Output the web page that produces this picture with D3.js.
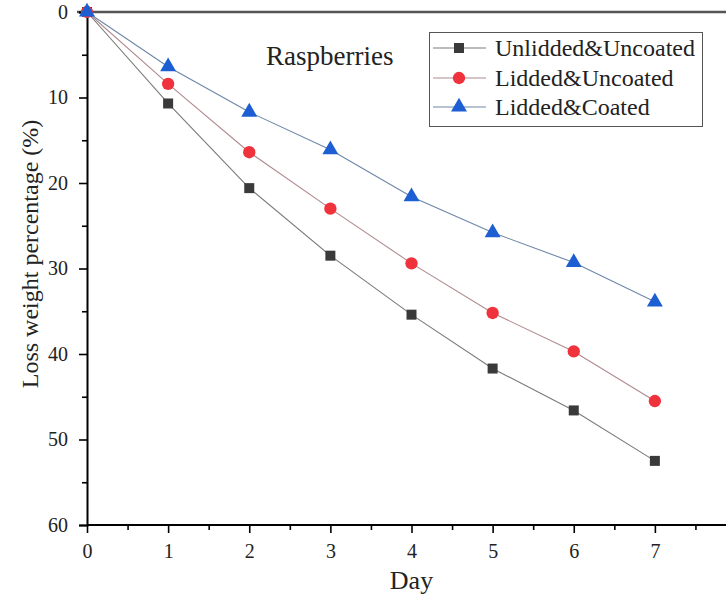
<!DOCTYPE html>
<html>
<head>
<meta charset="utf-8">
<script src="https://cdn.jsdelivr.net/npm/d3@7"></script>
<style>
  html, body { margin: 0; padding: 0; background: #fff; }
  svg { display: block; font-family: "Liberation Serif", "Times New Roman", serif; }
</style>
</head>
<body>
<svg id="chart" width="726" height="596"></svg>
<script>
// Weight loss of raspberries over storage days
const days = [0, 1, 2, 3, 4, 5, 6, 7];
const unliddedUncoated = [0, 10.7, 20.6, 28.5, 35.4, 41.7, 46.6, 52.5];
const liddedUncoated   = [0, 8.4, 16.4, 23.0, 29.4, 35.2, 39.7, 45.5];
const liddedCoated     = [0, 6.4, 11.7, 16.1, 21.6, 25.8, 29.3, 33.9];
const seriesNames = ["Unlidded&Uncoated", "Lidded&Uncoated", "Lidded&Coated"];
const xTicks = [0, 1, 2, 3, 4, 5, 6, 7];
const yTicks = [0, 10, 20, 30, 40, 50, 60];

const series = [
  { name: seriesNames[0], values: unliddedUncoated, color: "#3a3a3a", line: "#7a7a7a", shape: d3.symbolSquare, size: 100 },
  { name: seriesNames[1], values: liddedUncoated,   color: "#f0323c", line: "#b08a8e", shape: d3.symbolCircle, size: 120 },
  { name: seriesNames[2], values: liddedCoated,     color: "#1d5fd2", line: "#6d87a8", shape: d3.symbolTriangle, size: 110 }
];

const svg = d3.select("#chart");
const plotL = 87, plotR = 736, plotT = 12, plotB = 525;

const x = d3.scaleLinear().domain([0, 8]).range([plotL, plotR]);
const y = d3.scaleLinear().domain([0, 60]).range([plotT, plotB]);

// top frame line
svg.append("line")
  .attr("x1", plotL - 10).attr("x2", 726)
  .attr("y1", plotT).attr("y2", plotT)
  .attr("stroke", "#555").attr("stroke-width", 2.5);

// minor ticks
const xMinor = d3.range(0.5, 8, 1);
const yMinor = d3.range(5, 60, 10);

const xAxis = svg.append("g").attr("transform", `translate(0,${plotB})`)
  .call(d3.axisBottom(x).tickValues(xTicks).tickFormat(d3.format("d")).tickSize(8).tickPadding(11));
svg.append("g").attr("transform", `translate(0,${plotB})`)
  .call(d3.axisBottom(x).tickValues(xMinor).tickFormat("").tickSize(5))
  .call(g => g.select(".domain").remove());

const yAxis = svg.append("g").attr("transform", `translate(${plotL},0)`)
  .call(d3.axisLeft(y).tickValues(yTicks).tickFormat(d3.format("d")).tickSize(8).tickPadding(11));
svg.append("g").attr("transform", `translate(${plotL},0)`)
  .call(d3.axisLeft(y).tickValues(yMinor).tickFormat("").tickSize(5))
  .call(g => g.select(".domain").remove());

svg.selectAll(".domain").attr("stroke", "#000").attr("stroke-width", 2);
svg.selectAll(".tick line").attr("stroke", "#000").attr("stroke-width", 1.6);
svg.selectAll(".tick text").attr("font-family", "Liberation Serif, serif")
  .attr("font-size", 20).attr("fill", "#222");
xAxis.selectAll(".domain").attr("d", `M${plotL},0H726`);

// axis titles
svg.append("text")
  .attr("x", x(4)).attr("y", 589)
  .attr("text-anchor", "middle")
  .attr("font-size", 26).attr("fill", "#222")
  .text("Day");

svg.append("text")
  .attr("transform", `translate(38,254) rotate(-90)`)
  .attr("text-anchor", "middle")
  .attr("font-size", 24).attr("fill", "#222")
  .text("Loss weight percentage (%)");

// lines and markers
const line = d3.line().x((d, i) => x(days[i])).y(d => y(d));

series.forEach(s => {
  svg.append("path")
    .attr("d", line(s.values))
    .attr("fill", "none")
    .attr("stroke", s.line)
    .attr("stroke-width", 1.1);
});

series.forEach(s => {
  svg.append("g").selectAll("path")
    .data(s.values)
    .join("path")
    .attr("transform", (d, i) => `translate(${x(days[i])},${y(d)})`)
    .attr("d", d3.symbol().type(s.shape).size(s.size))
    .attr("fill", s.color);
});

// annotation
svg.append("text")
  .attr("x", 266).attr("y", 65)
  .attr("font-size", 27).attr("fill", "#222")
  .text("Raspberries");

// legend
const legend = svg.append("g");
legend.append("rect")
  .attr("x", 429.5).attr("y", 32.5).attr("width", 273).attr("height", 94)
  .attr("fill", "#fff").attr("stroke", "#555").attr("stroke-width", 1);

const rowY = [48, 78, 107];
series.forEach((s, i) => {
  const g = legend.append("g").attr("transform", `translate(0,${rowY[i]})`);
  g.append("line").attr("x1", 433).attr("x2", 486).attr("y1", 0).attr("y2", 0)
    .attr("stroke", s.line).attr("stroke-width", 1.1);
  g.append("path").attr("transform", "translate(459,0)")
    .attr("d", d3.symbol().type(s.shape).size(s.size)).attr("fill", s.color);
  g.append("text").attr("x", 495).attr("y", 0).attr("dy", "0.35em")
    .attr("font-size", 24).attr("fill", "#222").text(s.name);
});
</script>
</body>
</html>
